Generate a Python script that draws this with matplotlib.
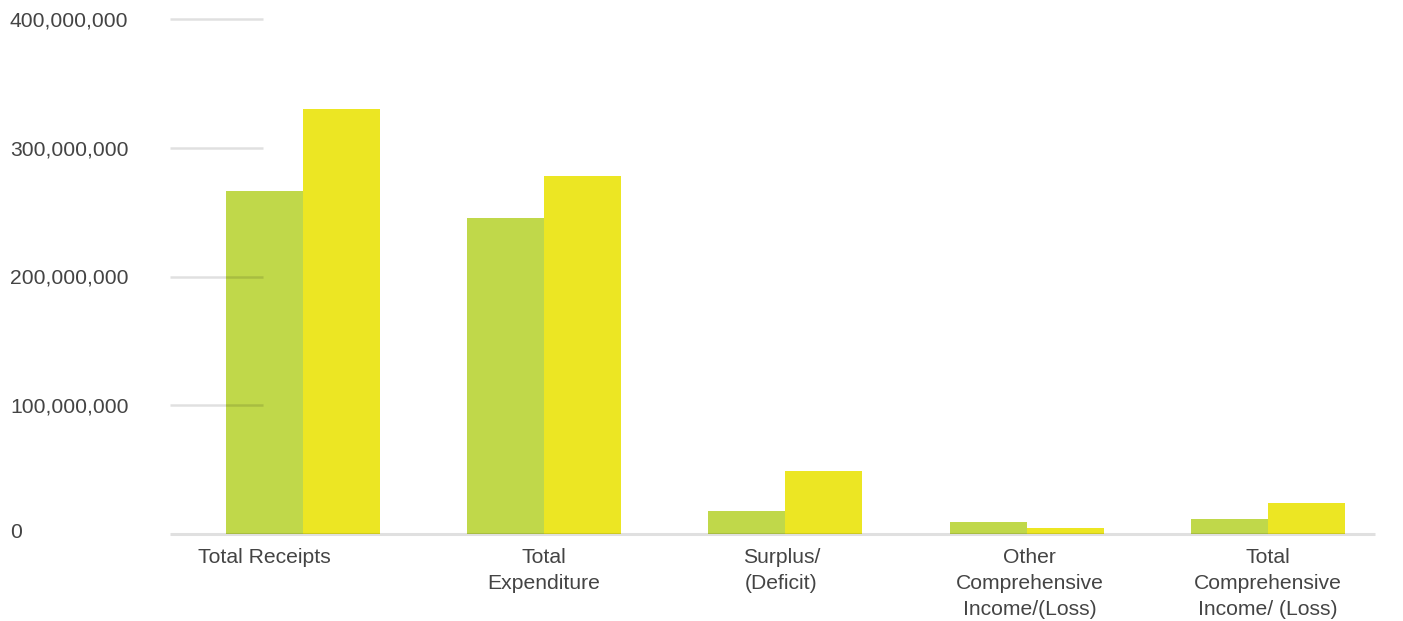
import matplotlib
matplotlib.use("Agg")
import matplotlib.pyplot as plt
import matplotlib.transforms as mtransforms
import numpy as np

categories = ["Total Receipts", "Total\nExpenditure", "Surplus/\n(Deficit)",
              "Other\nComprehensive\nIncome/(Loss)", "Total\nComprehensive\nIncome/ (Loss)"]
series_a = [266_400_000, 245_400_000, 17_900_000, 9_300_000, 11_700_000]
series_b = [330_100_000, 278_100_000, 48_900_000, 4_700_000, 24_100_000]
yticks = [0, 100_000_000, 200_000_000, 300_000_000, 400_000_000]
ytick_labels = ["0", "100,000,000", "200,000,000", "300,000,000", "400,000,000"]

GREEN = "#C0D84A"
YELLOW = "#ECE623"
TEXT = "#444444"

plt.rcParams['font.family'] = ['Liberation Sans', 'DejaVu Sans']

fig = plt.figure(figsize=(14.03, 6.21), dpi=100)
W, H = 1403, 621
ax = fig.add_axes([170 / W, 1 - 534 / H, (1375 - 170) / W, (534 - 19) / H])

x = np.arange(len(categories))
w = 0.319
ax.bar(x - w / 2, series_a, width=w, color=GREEN, zorder=2)
ax.bar(x + w / 2, series_b, width=w, color=YELLOW, zorder=2)

ax.set_xlim(-0.551, 4.444)
ax.set_ylim(0, 400_000_000)

for s in ax.spines.values():
    s.set_visible(False)

# short gridline segments
trans = mtransforms.blended_transform_factory(ax.transAxes, ax.transData)
for v in yticks[1:]:
    ax.plot([0, (263 - 170) / 1205], [v, v], transform=trans, color="black",
            alpha=0.12, lw=1.8, solid_capstyle="butt", zorder=3, clip_on=False)
# baseline
ax.plot([0, 1], [0, 0], transform=trans, color="black", alpha=0.12, lw=2.2,
        solid_capstyle="butt", zorder=3, clip_on=False)

ax.set_yticks(yticks)
ax.set_yticklabels(ytick_labels, fontsize=15.2, color=TEXT, ha="left")
ax.tick_params(axis="y", length=0, pad=115.2)
ax.set_xticks([])
# nudge the "0" label up slightly as in the reference
ax.get_yticklabels()[0].set_transform(
    ax.get_yticklabels()[0].get_transform() + mtransforms.ScaledTranslation(0, 0.03, fig.dpi_scale_trans))

offsets = [-39, 0, -4, 3, 0]
for i, lab in enumerate(categories):
    t = ax.get_xaxis_transform() + mtransforms.ScaledTranslation(offsets[i] / 100, 0, fig.dpi_scale_trans)
    ax.text(x[i], -0.028, lab, transform=t, ha="center", va="top", fontsize=15.2,
            color=TEXT, linespacing=1.45)

fig.savefig("out.png", dpi=100, facecolor="white")
